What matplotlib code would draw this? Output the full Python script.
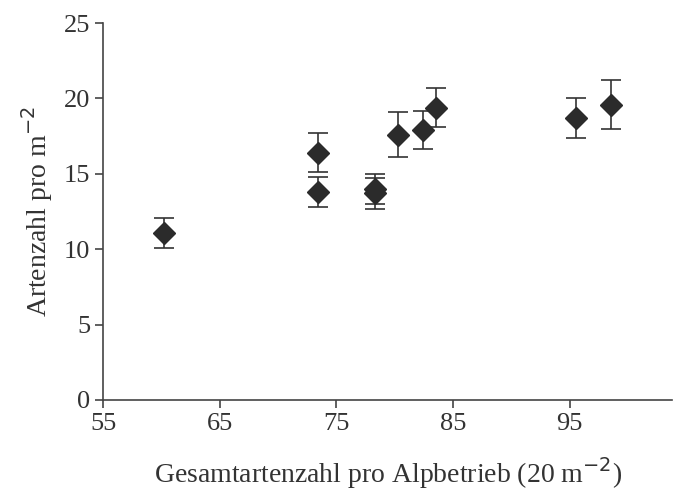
import matplotlib
matplotlib.use("Agg")
import matplotlib.pyplot as plt

# Gesamtartenzahl pro Alpbetrieb vs. mittlere Artenzahl pro m2 (mit Fehlerbalken)
gesamt = [60.2, 73.4, 73.4, 78.3, 78.3, 80.3, 82.4, 83.5, 95.5, 98.5]
arten = [11.1, 16.4, 13.8, 14.0, 13.7, 17.6, 17.9, 19.4, 18.7, 19.6]
fehler = [1.0, 1.3, 1.0, 1.0, 1.0, 1.5, 1.25, 1.3, 1.35, 1.65]

x_ticks = [55, 65, 75, 85, 95]
y_ticks = [0, 5, 10, 15, 20, 25]

plt.rcParams['font.family'] = ['Liberation Serif', 'DejaVu Serif']

fig = plt.figure(figsize=(6.75, 4.92), dpi=100)
ax = fig.add_axes([0.153, 0.187, 0.843, 0.766])

ax.errorbar(gesamt, arten, yerr=fehler, fmt='D', color='#2b2b2b',
            ecolor='#333333', elinewidth=1.2, capsize=7, capthick=1.2,
            markersize=11)

ax.set_xlim(55, 103.8)
ax.set_ylim(0, 25)
ax.set_xticks(x_ticks)
ax.set_yticks(y_ticks)

for s in ['top', 'right']:
    ax.spines[s].set_visible(False)
for s in ['left', 'bottom']:
    ax.spines[s].set_color('#444444')
    ax.spines[s].set_linewidth(1.2)

ax.tick_params(direction='out', length=6, width=1.2, color='#444444',
               labelsize=19, labelcolor='#333333')

ax.set_xlabel('Gesamtartenzahl pro Alpbetrieb (20 m$^{-2}$)', fontsize=20,
              color='#333333', labelpad=14)
ax.set_ylabel('Artenzahl pro m$^{-2}$', fontsize=20, color='#333333',
              labelpad=6)

plt.savefig("out.png")
